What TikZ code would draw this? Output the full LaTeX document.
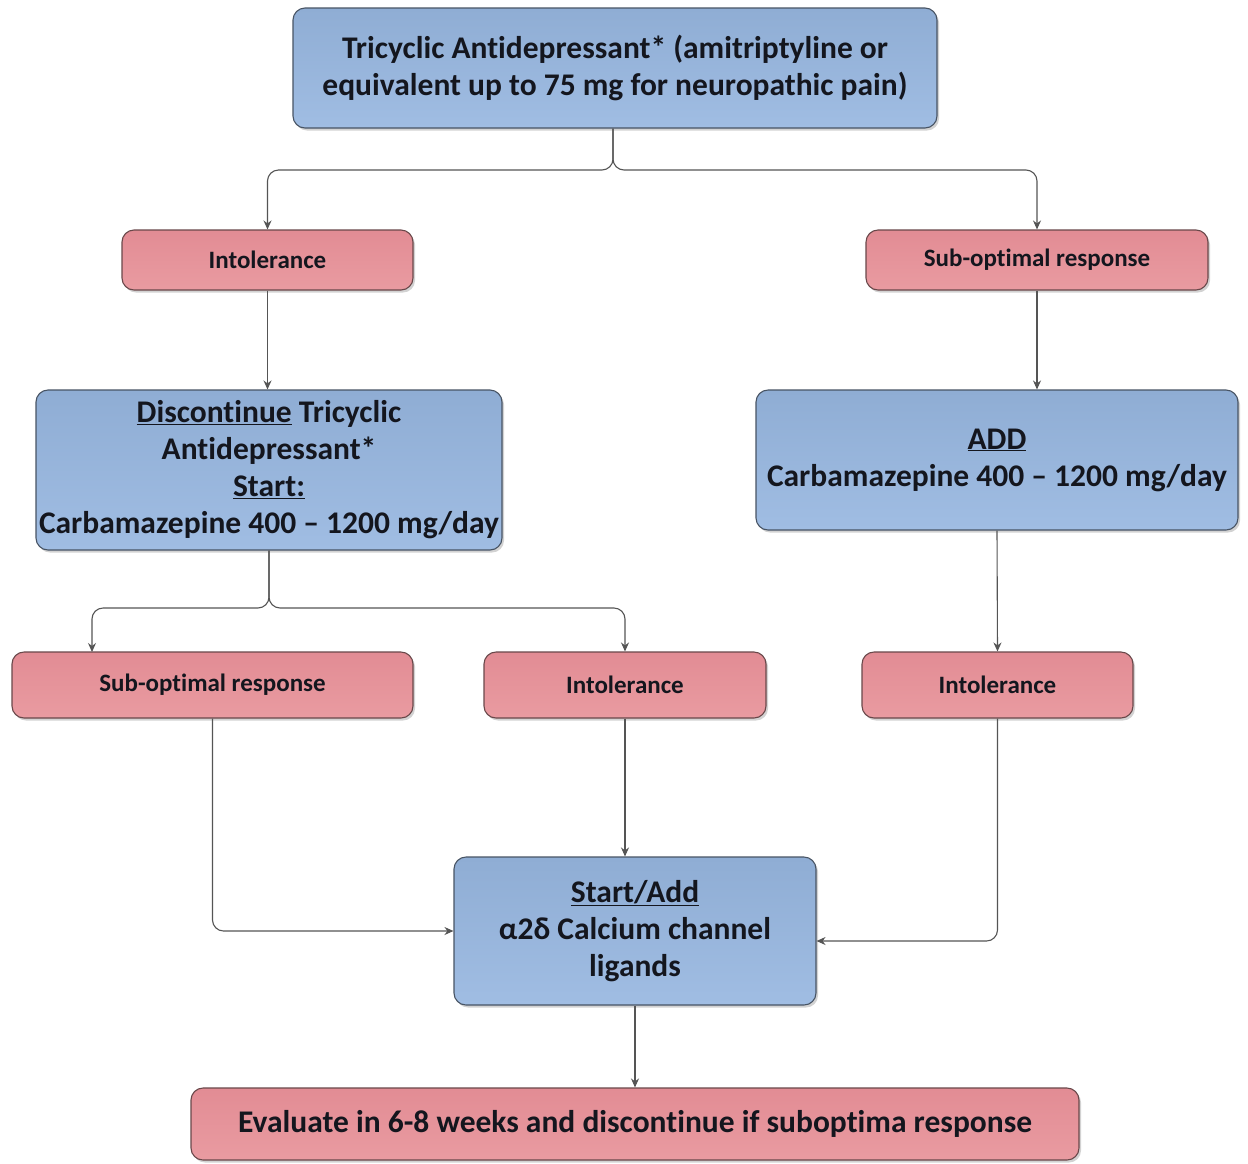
\documentclass[tikz,border=0pt]{standalone}
\usepackage{fontspec}
\setmainfont{Carlito}[Ligatures={NoCommon,NoContextual,NoRare}]
\usetikzlibrary{arrows.meta,shadows,calc}
\definecolor{bluetop}{RGB}{143,173,212}
\definecolor{bluebot}{RGB}{160,189,227}
\definecolor{blueline}{RGB}{72,84,100}
\definecolor{pinktop}{RGB}{226,140,148}
\definecolor{pinkbot}{RGB}{233,155,161}
\definecolor{pinkline}{RGB}{105,72,74}
\definecolor{connline}{RGB}{85,85,85}
\definecolor{txt}{RGB}{20,22,30}
\begin{document}
\begin{tikzpicture}[x=1pt,y=-1pt,
  boxbase/.style={rounded corners=12pt, draw, line width=1.1pt, align=center, inner sep=0pt,
     font=\bfseries, text=txt, drop shadow={opacity=0.35, shadow xshift=2pt, shadow yshift=-2.5pt}},
  bluebox/.style={boxbase, draw=blueline, top color=bluetop, bottom color=bluebot},
  pinkbox/.style={boxbase, draw=pinkline, top color=pinktop, bottom color=pinkbot},
  bigtext/.style={font=\bfseries\fontsize{31.5}{37}\selectfont},
  smalltext/.style={font=\bfseries\fontsize{25}{28}\selectfont},
  conn/.style={draw=connline, line width=1.1pt, rounded corners=11pt,
     -{Stealth[length=9pt,width=8pt]}}]
\useasboundingbox[fill=white] (0,0) rectangle (1248,1163);

\node[bluebox, bigtext, minimum width=644pt, minimum height=120pt]
  (top) at (615,68) {Tricyclic Antidepressant* (amitriptyline or\\equivalent up to 75 mg for neuropathic pain)};

\node[pinkbox, smalltext, minimum width=291pt, minimum height=60pt]
  (intL) at (267.5,260) {Intolerance};
\node[pinkbox, smalltext, minimum width=342pt, minimum height=60pt]
  (subR) at (1037,260) {Sub-optimal response};

\node[bluebox, bigtext, minimum width=466pt, minimum height=160pt]
  (disc) at (269,470) {\underline{Discontinue} Tricyclic\\Antidepressant*\\\underline{Start:}\\Carbamazepine 400 -- 1200 mg/day};
\node[bluebox, bigtext, minimum width=482pt, minimum height=140pt]
  (add) at (997,460) {\underline{ADD}\\Carbamazepine 400 -- 1200 mg/day};

\node[pinkbox, smalltext, minimum width=401pt, minimum height=66pt]
  (subL) at (212.5,685) {Sub-optimal response};
\node[pinkbox, smalltext, minimum width=282pt, minimum height=66pt]
  (intM) at (625,685) {Intolerance};
\node[pinkbox, smalltext, minimum width=271pt, minimum height=66pt]
  (intR) at (997.5,685) {Intolerance};

\node[bluebox, bigtext, minimum width=362pt, minimum height=148pt]
  (sa) at (635,931) {\underline{Start/Add}\\α2δ Calcium channel\\ligands};

\node[pinkbox, bigtext, minimum width=888pt, minimum height=72pt]
  (eval) at (635,1124) {Evaluate in 6-8 weeks and discontinue if suboptima response};

% connectors
\coordinate (s1) at (613,170);
\coordinate (s2) at (269,608);
\coordinate (subLin) at (92,652);
\draw[conn] (top.south -| s1) -- (s1) -| (intL.north);
\draw[conn] (top.south -| s1) -- (s1) -| (subR.north);
\draw[conn] (intL.south) -- (disc.north -| intL.south);
\draw[conn] (subR.south) -- (add.north -| subR.south);
\draw[conn] (disc.south) -- (s2) -| (subLin);
\draw[conn] (disc.south) -- (s2) -| (intM.north);
\draw[conn] (add.south) -- (intR.north);
\draw[conn] (subL.south) |- (sa.west);
\draw[conn] (intM.south) -- (intM.south |- sa.north);
\draw[conn] (intR.south) |- ([yshift=-10pt]sa.east);
\draw[conn] (sa.south) -- (eval.north);
\end{tikzpicture}
\end{document}
